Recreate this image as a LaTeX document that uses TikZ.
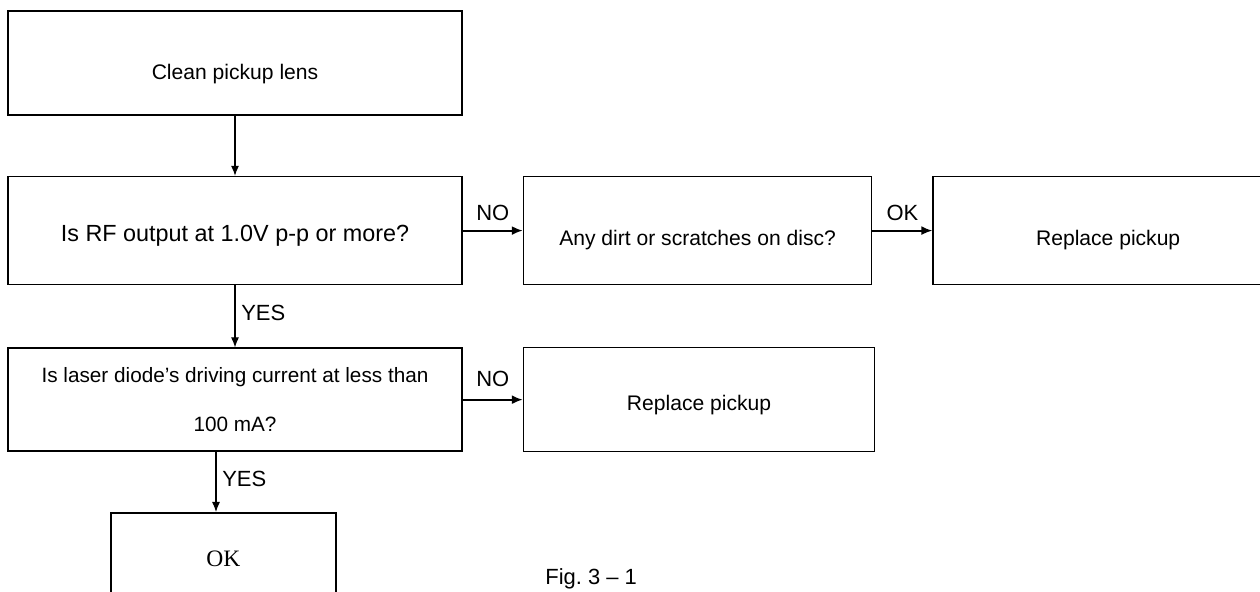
\documentclass[tikz,border=0pt]{standalone}
\usepackage{fontspec}
\setmainfont{Liberation Sans}
\newfontfamily\okserif{Liberation Serif}
\usetikzlibrary{arrows.meta,positioning}

\begin{document}
\begin{tikzpicture}[
node distance=1.2cm,
box/.style={draw, line width=0.9pt, minimum width=9.08cm, minimum height=2.08cm, align=center, inner sep=0pt, font=\fontsize{12}{14}\selectfont},
flow/.style={line width=0.6pt, -{Latex[length=0.2cm,width=0.16cm]}},
branch/.style={line width=1.1pt, -{Latex[length=0.22cm,width=0.18cm]}},
lbl/.style={font=\fontsize{12.5}{15}\selectfont, inner sep=1pt}
]
\useasboundingbox (0,0) rectangle (25.2,-11.82);

\node[box, text height=0.74cm, font=\fontsize{12}{14}\selectfont] (clean) at (4.7,-1.26) {Clean pickup lens};
\node[box, below=of clean, minimum height=2.16cm, text height=0.55cm, font=\fontsize{13.3}{16}\selectfont] (rfout) {Is RF output at 1.0V p-p or more?};
\node[box, right=of rfout, minimum width=6.96cm, minimum height=2.16cm, text height=0.67cm] (dirt) {Any dirt or scratches on disc?};
\node[box, right=of dirt, minimum width=7cm, minimum height=2.16cm, text height=0.67cm] (replaceA) {Replace pickup};
\node[box, below=1.24cm of rfout, minimum height=2.06cm, font=\fontsize{11.8}{28.3}\selectfont] (laser) {Is laser diode's driving current at less than\\100 mA?};
\node[box, right=of laser, minimum width=7.02cm, text height=0.53cm] (replaceB) {Replace pickup};
\node[box, below=of laser, xshift=-0.23cm, minimum width=4.5cm, minimum height=1.86cm, font=\okserif\fontsize{13.4}{16}\selectfont] (ok) {OK};

\node[lbl, anchor=base west, inner sep=0pt] (figcap) at (10.9,-11.68) {Fig.\ 3 -- 1};

\draw[flow] (clean) -- (rfout);
\draw[branch] (rfout) -- node[lbl, above=0.15cm] (noA) {NO} (dirt);
\draw[branch] (dirt) -- node[lbl, above=0.15cm] (okA) {OK} (replaceA);
\draw[flow] (rfout) -- node[lbl, right=0.08cm, pos=0.45] (yesA) {YES} (laser);
\draw[branch] (laser) -- node[lbl, above=0.2cm] (noB) {NO} (replaceB);
\draw[flow] ([xshift=-0.15cm]ok.north |- laser.south) -- node[lbl, right=0.08cm, pos=0.45] (yesB) {YES} ([xshift=-0.15cm]ok.north);
\end{tikzpicture}
\end{document}
